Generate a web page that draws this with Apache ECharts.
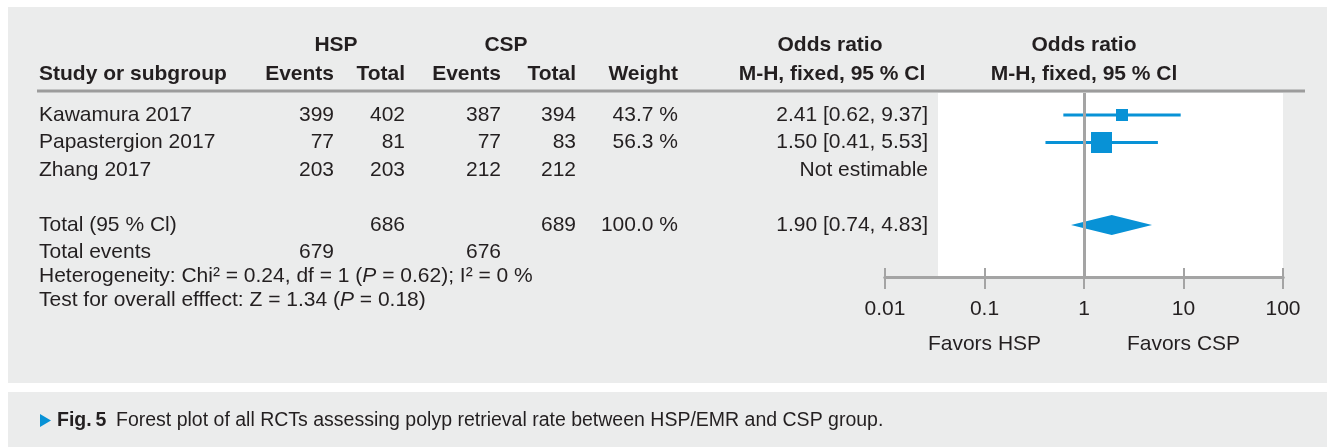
<!DOCTYPE html>
<html>
<head>
<meta charset="utf-8">
<script src="https://cdn.jsdelivr.net/npm/echarts@6/dist/echarts.min.js"></script>
<style>
  html, body { margin: 0; padding: 0; background: #fff; }
  #chart { width: 1327px; height: 447px; }
</style>
</head>
<body>
<div id="chart"></div>
<script>
// study rows
const studies = ['Kawamura 2017', 'Papastergion 2017', 'Zhang 2017'];
const hspEvents = [399, 77, 203];
const hspTotals = [402, 81, 203];
const cspEvents = [387, 77, 212];
const cspTotals = [394, 83, 212];
const weights = [43.7, 56.3, null];
const oddsRatio = [2.41, 1.50, null];
const ciLow = [0.62, 0.41, null];
const ciHigh = [9.37, 5.53, null];

// pooled estimate: [OR, low, high]
const pooledOR = [1.90, 0.74, 4.83];
const heterogeneity = ['0.24', '1', '0.62', '0'];
const overallEffect = ['1.34', '0.18'];

const xTicks = [0.01, 0.1, 1, 10, 100];
const favorsLabels = ['Favors HSP', 'Favors CSP'];
const favorsAt = [0.1, 10];

const FONT = '"Liberation Sans", Arial, sans-serif';
const INK = '#231f20';
const BLUE = '#0892d6';
const AXIS_GRAY = '#a4a4a4';
const PANEL = '#ebecec';
const FS = 21;

const sum = (arr) => arr.reduce((s, v) => s + (v || 0), 0);
const fmtCI = (e, l, h) => `${e.toFixed(2)} [${l.toFixed(2)}, ${h.toFixed(2)}]`;

const chart = echarts.init(document.getElementById('chart'));

const studyRows = studies.map((_, i) => i);
const TOTAL_ROW = 4;

chart.setOption({
  animation: false,
  backgroundColor: '#fff',
  grid: { left: 885, right: 44, top: 93, bottom: 170 },
  xAxis: [
    {
      type: 'log',
      logBase: 10,
      min: xTicks[0],
      max: xTicks[xTicks.length - 1],
      axisLine: { show: true, onZero: false, lineStyle: { color: AXIS_GRAY, width: 3 } },
      axisTick: { show: true, inside: false, length: 12, lineStyle: { color: AXIS_GRAY, width: 2 } },
      axisLabel: {
        color: INK,
        fontSize: FS,
        fontFamily: FONT,
        margin: 22,
        formatter: (v) => String(Number(Number(v).toPrecision(6))),
      },
      splitLine: { show: false },
    },
    {
      type: 'log',
      logBase: 10,
      min: xTicks[0],
      max: xTicks[xTicks.length - 1],
      position: 'bottom',
      axisLine: { show: true, onZero: false, lineStyle: { color: AXIS_GRAY, width: 3 } },
      axisTick: { show: true, inside: true, length: 9, lineStyle: { color: AXIS_GRAY, width: 2 } },
      axisLabel: { show: false },
      splitLine: { show: false },
    },
  ],
  yAxis: { type: 'value', inverse: true, min: -0.8, max: 5.89, show: false },
  series: [
    {
      type: 'custom',
      name: 'ci',
      z: 3,
      data: studyRows.filter((i) => oddsRatio[i] != null).map((i) => [ciLow[i], ciHigh[i], i]),
      renderItem: (params, api) => {
        const a = api.coord([api.value(0), api.value(2)]);
        const b = api.coord([api.value(1), api.value(2)]);
        return {
          type: 'line',
          shape: { x1: a[0], y1: a[1], x2: b[0], y2: b[1] },
          style: { stroke: BLUE, lineWidth: 3 },
        };
      },
      markLine: {
        silent: true,
        symbol: 'none',
        label: { show: false },
        lineStyle: { color: AXIS_GRAY, width: 3, type: 'solid' },
        data: [{ xAxis: 1 }],
      },
    },
    {
      type: 'scatter',
      name: 'or',
      z: 4,
      symbol: 'rect',
      symbolSize: (val) => Math.round((val[2] - 27) * 0.72),
      itemStyle: { color: BLUE, opacity: 1 },
      data: studyRows.filter((i) => oddsRatio[i] != null).map((i) => [oddsRatio[i], i, weights[i]]),
    },
    {
      type: 'custom',
      name: 'pooled',
      z: 4,
      data: [[pooledOR[0], pooledOR[1], pooledOR[2], TOTAL_ROW]],
      renderItem: (params, api) => {
        const c = api.coord([api.value(0), api.value(3)]);
        const l = api.coord([api.value(1), api.value(3)]);
        const r = api.coord([api.value(2), api.value(3)]);
        const h = 10;
        return {
          type: 'polygon',
          shape: { points: [[l[0], c[1]], [c[0], c[1] - h], [r[0], c[1]], [c[0], c[1] + h]] },
          style: { fill: BLUE },
        };
      },
    },
  ],
});

const rowY = (r) => chart.convertToPixel({ yAxisIndex: 0 }, r);
const colX = (v) => chart.convertToPixel({ xAxisIndex: 0 }, v);

function txt(text, x, y, align, opts = {}) {
  return {
    type: 'text',
    z: 10,
    style: {
      text,
      x,
      y,
      align,
      textAlign: align,
      verticalAlign: 'middle',
      textVerticalAlign: 'middle',
      fill: INK,
      fontSize: opts.size || FS,
      fontFamily: FONT,
      fontWeight: opts.bold ? 'bold' : 'normal',
      rich: opts.rich,
    },
  };
}

const COL = { study: 39, hspE: 334, hspT: 405, cspE: 501, cspT: 576, weight: 678, or: 928 };
const H1 = 45;
const H2 = 74;

const elements = [
  { type: 'rect', z: 0, shape: { x: 8, y: 7, width: 1319, height: 376 }, style: { fill: PANEL } },
  { type: 'rect', z: 0, shape: { x: 8, y: 392, width: 1319, height: 55 }, style: { fill: PANEL } },
  { type: 'rect', z: 0, shape: { x: 938, y: 93, width: colX(100) - 938, height: rowY(5.89) - 93 }, style: { fill: '#fff' } },
  { type: 'line', z: 1, shape: { x1: 37, y1: 91, x2: 1305, y2: 91 }, style: { stroke: '#9c9c9c', lineWidth: 3 } },

  txt('HSP', 336, H1, 'center', { bold: true }),
  txt('CSP', 506, H1, 'center', { bold: true }),
  txt('Odds ratio', 830, H1, 'center', { bold: true }),
  txt('Odds ratio', colX(1), H1, 'center', { bold: true }),
  txt('Study or subgroup', COL.study, H2, 'left', { bold: true }),
  txt('Events', COL.hspE, H2, 'right', { bold: true }),
  txt('Total', COL.hspT, H2, 'right', { bold: true }),
  txt('Events', COL.cspE, H2, 'right', { bold: true }),
  txt('Total', COL.cspT, H2, 'right', { bold: true }),
  txt('Weight', COL.weight, H2, 'right', { bold: true }),
  txt('M-H, fixed, 95 % Cl', 832, H2, 'center', { bold: true }),
  txt('M-H, fixed, 95 % Cl', colX(1), H2, 'center', { bold: true }),
];

studies.forEach((name, i) => {
  const y = rowY(i);
  elements.push(
    txt(name, COL.study, y, 'left'),
    txt(String(hspEvents[i]), COL.hspE, y, 'right'),
    txt(String(hspTotals[i]), COL.hspT, y, 'right'),
    txt(String(cspEvents[i]), COL.cspE, y, 'right'),
    txt(String(cspTotals[i]), COL.cspT, y, 'right'),
    txt(weights[i] != null ? `${weights[i].toFixed(1)} %` : '', COL.weight, y, 'right'),
    txt(oddsRatio[i] != null ? fmtCI(oddsRatio[i], ciLow[i], ciHigh[i]) : 'Not estimable', COL.or, y, 'right'),
  );
});

const yTot = rowY(TOTAL_ROW);
const yEv = yTot + 27;
const yHet = yTot + 51;
const yTest = yTot + 75;
const ital = { i: { fontStyle: 'italic', fontSize: FS, fontFamily: FONT, fill: INK } };

elements.push(
  txt('Total (95 % Cl)', COL.study, yTot, 'left'),
  txt(String(sum(hspTotals)), COL.hspT, yTot, 'right'),
  txt(String(sum(cspTotals)), COL.cspT, yTot, 'right'),
  txt(`${sum(weights).toFixed(1)} %`, COL.weight, yTot, 'right'),
  txt(fmtCI(pooledOR[0], pooledOR[1], pooledOR[2]), COL.or, yTot, 'right'),
  txt('Total events', COL.study, yEv, 'left'),
  txt(String(sum(hspEvents)), COL.hspE, yEv, 'right'),
  txt(String(sum(cspEvents)), COL.cspE, yEv, 'right'),
  txt(`Heterogeneity: Chi\u00b2 = ${heterogeneity[0]}, df = ${heterogeneity[1]} ({i|P} = ${heterogeneity[2]}); I\u00b2 = ${heterogeneity[3]} %`,
    COL.study, yHet, 'left', { rich: ital }),
  txt(`Test for overall efffect: Z = ${overallEffect[0]} ({i|P} = ${overallEffect[1]})`,
    COL.study, yTest, 'left', { rich: ital }),
);

favorsLabels.forEach((label, i) => {
  elements.push(txt(label, colX(favorsAt[i]), 344, 'center'));
});

// caption
elements.push(
  { type: 'polygon', z: 10, shape: { points: [[40, 414], [51, 420.5], [40, 427]] }, style: { fill: BLUE } },
  txt('Fig.\u20095', 57, 421, 'left', { bold: true, size: 19.5 }),
  txt('Forest plot of all RCTs assessing polyp retrieval rate between HSP/EMR and CSP group.', 116, 421, 'left', { size: 19.5 }),
);

chart.setOption({ graphic: { elements } });
</script>
</body>
</html>
